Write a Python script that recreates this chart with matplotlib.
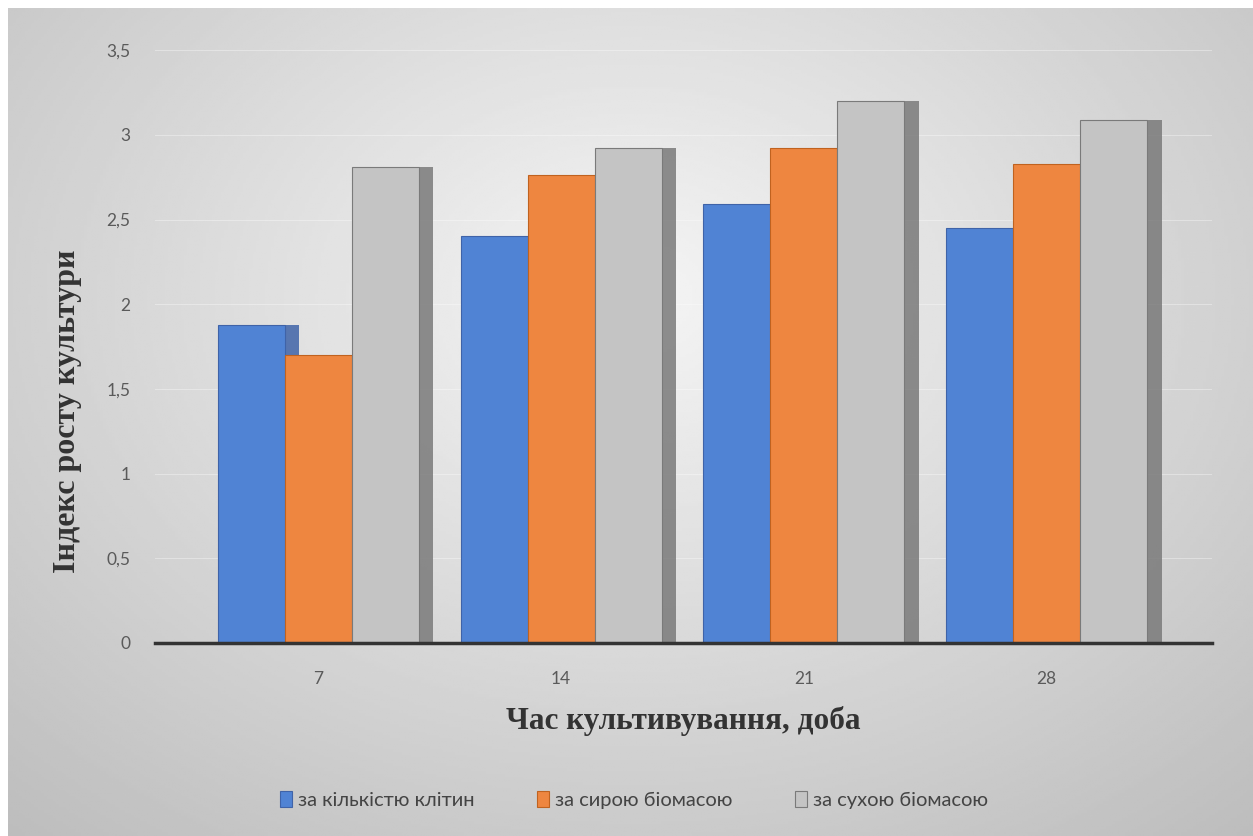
import numpy as np
import matplotlib
matplotlib.use("Agg")
import matplotlib.pyplot as plt
from matplotlib.ticker import FuncFormatter

days = ["7", "14", "21", "28"]
series_names = ["за кількістю клітин", "за сирою біомасою", "за сухою біомасою"]
cells = [1.88, 2.40, 2.59, 2.45]
wet_mass = [1.70, 2.76, 2.92, 2.83]
dry_mass = [2.81, 2.92, 3.20, 3.09]

colors = ["#5083d4", "#ee8640", "#c4c4c4"]
edges = ["#3f63a8", "#c0621f", "#7a7a7a"]


def main():
    fig = plt.figure(figsize=(12.53, 8.36), dpi=100, facecolor="white")

    # grey gradient background, like the Excel chart area
    bg = fig.add_axes([0.006, 0.0, 0.994, 0.99])
    yy, xx = np.mgrid[-1:1:300j, -1:1:400j]
    r = np.sqrt((xx * 0.9) ** 2 + ((yy + 0.3) * 0.8) ** 2)
    bg.imshow(0.96 - 0.16 * r, cmap="gray", vmin=0, vmax=1, aspect="auto",
              extent=[0, 1, 0, 1])
    bg.set_axis_off()

    ax = fig.add_axes([0.124, 0.231, 0.843, 0.709])
    ax.set_facecolor("none")

    x = np.arange(len(days))
    w = 0.276
    data = [cells, wet_mass, dry_mass]
    for i, vals in enumerate(data):
        pos = x + (i - 1) * w
        # a darker face behind each bar for a bit of depth
        ax.bar(pos + 0.06, vals, w, bottom=0, color=edges[i], alpha=0.85, zorder=2)
        ax.bar(pos, vals, w, color=colors[i], edgecolor=edges[i], linewidth=0.8,
               label=series_names[i], zorder=3)

    ax.set_ylim(0, 3.5)
    ax.set_xlim(-0.671, 3.679)
    ax.set_yticks(np.arange(0, 3.51, 0.5))
    ax.yaxis.set_major_formatter(FuncFormatter(lambda v, p: ("%g" % v).replace(".", ",")))
    ax.set_xticks(x)
    ax.set_xticklabels(days)
    ax.grid(axis="y", color="white", alpha=0.35, linewidth=0.8, zorder=0)
    for s in ["top", "right", "left"]:
        ax.spines[s].set_visible(False)
    ax.spines["bottom"].set_color("#333333")
    ax.spines["bottom"].set_linewidth(2.5)
    ax.spines["bottom"].set_zorder(4)
    ax.tick_params(axis="both", length=0, labelsize=12.5, colors="#5a5a5a")
    for t in ax.get_xticklabels() + ax.get_yticklabels():
        t.set_family("Lato")
    ax.tick_params(axis="y", pad=18)
    ax.tick_params(axis="x", pad=20)

    ax.set_ylabel("Індекс росту культури", family="Liberation Serif",
                  fontweight="bold", fontsize=23, color="#333333")
    ax.yaxis.set_label_coords(-0.069, 0.39)
    ax.set_xlabel("Час культивування, доба", family="Liberation Serif",
                  fontweight="bold", fontsize=22.5, color="#333333", labelpad=14)

    fig.legend(loc="center", bbox_to_anchor=(0.506, 0.043), ncol=3, frameon=False,
               prop={"family": "Lato", "size": 14.5}, handlelength=0.6,
               handleheight=0.8, handletextpad=0.3, columnspacing=3.1,
               labelcolor="#444444")

    fig.savefig("out.png", dpi=100, facecolor=fig.get_facecolor())


if __name__ == "__main__":
    main()
